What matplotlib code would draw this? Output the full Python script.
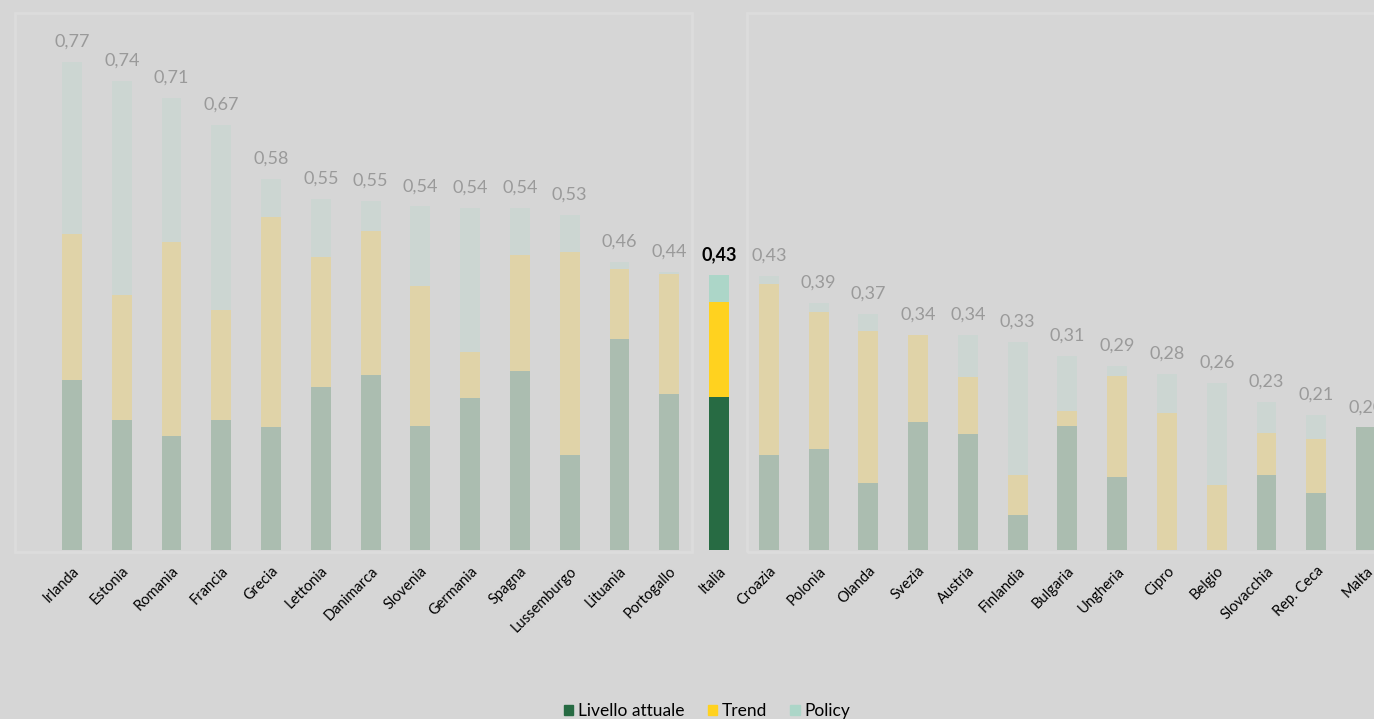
import matplotlib.pyplot as plt
from matplotlib.patches import Rectangle

plt.rcParams['font.family'] = ['Lato', 'DejaVu Sans']

paesi = ['Irlanda', 'Estonia', 'Romania', 'Francia', 'Grecia', 'Lettonia',
         'Danimarca', 'Slovenia', 'Germania', 'Spagna', 'Lussemburgo',
         'Lituania', 'Portogallo', 'Italia', 'Croazia', 'Polonia', 'Olanda',
         'Svezia', 'Austria', 'Finlandia', 'Bulgaria', 'Ungheria', 'Cipro',
         'Belgio', 'Slovacchia', 'Rep. Ceca', 'Malta']

livello = [0.268, 0.205, 0.179, 0.205, 0.193, 0.256, 0.276, 0.196, 0.239,
           0.282, 0.149, 0.332, 0.246, 0.241, 0.149, 0.159, 0.106, 0.202,
           0.182, 0.055, 0.196, 0.115, 0.000, 0.000, 0.118, 0.089, 0.193]
trend = [0.229, 0.196, 0.306, 0.173, 0.332, 0.205, 0.226, 0.219, 0.073,
         0.182, 0.320, 0.110, 0.189, 0.150, 0.270, 0.216, 0.239, 0.137,
         0.090, 0.063, 0.023, 0.159, 0.215, 0.102, 0.067, 0.086, 0.000]
policy = [0.271, 0.337, 0.227, 0.291, 0.059, 0.092, 0.048, 0.126, 0.227,
          0.074, 0.059, 0.012, 0.003, 0.042, 0.012, 0.014, 0.027, 0.000,
          0.066, 0.210, 0.087, 0.016, 0.062, 0.161, 0.048, 0.038, 0.000]
etichette = ['0,77', '0,74', '0,71', '0,67', '0,58', '0,55', '0,55', '0,54',
             '0,54', '0,54', '0,53', '0,46', '0,44', '0,43', '0,43', '0,39',
             '0,37', '0,34', '0,34', '0,33', '0,31', '0,29', '0,28', '0,26',
             '0,23', '0,21', '0,20']

bg = '#d6d6d6'
col_full = ['#276b43', '#ffd21f', '#acd6c8']
col_fade = ['#abbdb0', '#e0d3a8', '#ccd6d2']

fig = plt.figure(figsize=(13.74, 7.19), dpi=100, facecolor=bg)

# pannelli di sfondo (bordo chiaro)
W, H = 1374, 719
for x0, x1 in [(15, 692), (747, 1400)]:
    fig.patches.append(Rectangle((x0 / W, 1 - 552 / H), (x1 - x0) / W, (552 - 12.5) / H,
                                 transform=fig.transFigure, fill=False,
                                 edgecolor='#dcdcdc', lw=2, zorder=0))

ax = fig.add_axes([0, 169 / H, 1, 537 / H])
ax.patch.set_visible(False)

x = list(range(len(paesi)))
it = paesi.index('Italia')
for i in x:
    cols = col_full if i == it else col_fade
    b0 = 0
    for val, c in zip([livello[i], trend[i], policy[i]], cols):
        if val > 0:
            ax.bar(i, val, bottom=b0, width=0.4, color=c, zorder=2)
        b0 += val
    ax.annotate(etichette[i], (i, b0), xytext=(0, 11), textcoords='offset points',
                ha='center', va='baseline', fontsize=13,
                color='black' if i == it else '#9a9a9a',
                fontweight='bold' if i == it else 'normal')

ax.set_xlim(-72 / 49.77, (1374 - 72) / 49.77)
ax.set_ylim(0, 537 / 635)
ax.set_yticks([])
ax.set_xticks(x)
ax.set_xticklabels(paesi, rotation=45, ha='right', rotation_mode='anchor', fontsize=10.5)
ax.tick_params(axis='x', length=0, pad=10)
for s in ax.spines.values():
    s.set_visible(False)

handles = [Rectangle((0, 0), 1, 1, color=c) for c in col_full]
fig.legend(handles, ['Livello attuale', 'Trend', 'Policy'], loc='lower center',
           bbox_to_anchor=(0.5146, -0.022), ncol=3, frameon=False, fontsize=12.5,
           handlelength=0.55, handleheight=0.55, handletextpad=0.25, columnspacing=1.35)

fig.savefig('out.png', dpi=100, facecolor=bg)
